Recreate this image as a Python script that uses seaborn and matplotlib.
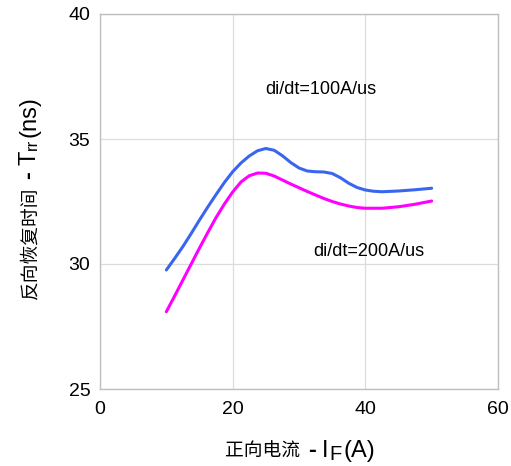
import matplotlib
matplotlib.use("Agg")
import matplotlib.pyplot as plt
import seaborn as sns
import pandas as pd

x_100 = [10, 11.25, 12.5, 13.75, 15, 16.25, 17.5, 18.75, 20, 21.25, 22.5, 23.75, 25, 26.25, 27.5,
         28.75, 30, 31.25, 32.5, 33.75, 35, 36.25, 37.5, 38.75, 40, 41.25, 42.5, 45, 47.5, 50]
trr_100 = [29.76, 30.22, 30.70, 31.22, 31.76, 32.28, 32.78, 33.26, 33.69, 34.04, 34.32, 34.53, 34.62, 34.55, 34.33,
           34.06, 33.84, 33.72, 33.69, 33.68, 33.62, 33.45, 33.23, 33.06, 32.96, 32.91, 32.89, 32.92, 32.97, 33.03]
x_200 = [10, 11.25, 12.5, 13.75, 15, 16.25, 17.5, 18.75, 20, 21.25, 22.5, 23.75, 25, 26.25, 27.5,
         28.75, 30, 31.25, 32.5, 33.75, 35, 36.25, 37.5, 38.75, 40, 42.5, 45, 47.5, 50]
trr_200 = [28.09, 28.72, 29.36, 30.00, 30.64, 31.26, 31.86, 32.40, 32.88, 33.28, 33.53, 33.64, 33.63, 33.52, 33.36,
           33.20, 33.05, 32.90, 32.76, 32.62, 32.50, 32.40, 32.32, 32.26, 32.23, 32.23, 32.29, 32.39, 32.52]
labels = ["di/dt=100A/us", "di/dt=200A/us"]
x_ticks = [0, 20, 40, 60]
y_ticks = [25, 30, 35, 40]

sns.set_theme(style="white")
plt.rcParams['font.family'] = ['Liberation Sans', 'Noto Sans CJK SC', 'DejaVu Sans']
plt.rcParams['text.color'] = 'black'

df = pd.DataFrame({
    "IF": x_100 + x_200,
    "Trr": trr_100 + trr_200,
    "series": [labels[0]] * len(x_100) + [labels[1]] * len(x_200),
})

W, H = 511, 466
fig = plt.figure(figsize=(W / 100, H / 100), dpi=100)
ax = fig.add_axes([100 / W, 1 - 389 / H, 398 / W, 375 / H])

sns.lineplot(data=df, x="IF", y="Trr", hue="series",
             palette={labels[0]: "#3A66EE", labels[1]: "#FF00FF"},
             linewidth=2.2, legend=False, ax=ax, sort=False)

ax.set_xlim(0, 60)
ax.set_ylim(25, 40)
ax.set_xticks(x_ticks)
ax.set_yticks(y_ticks)
ax.tick_params(axis='both', length=0, labelsize=14, colors="#000000")
ax.tick_params(axis='x', pad=9)
ax.tick_params(axis='y', pad=7)
ax.grid(True, color="#DCDCDC", linewidth=0.9)
ax.set_xlabel("")
ax.set_ylabel("")
for s in ax.spines.values():
    s.set_color("#BFBFBF")
    s.set_linewidth(1.0)

ax.text(24.9, 37.0, labels[0], fontsize=13, va="center", ha="left")
ax.text(32.1, 30.5, labels[1], fontsize=13, va="center", ha="left")

# composed axis labels (CJK + subscript)
renderer = fig.canvas.get_renderer()
CJK = ['Noto Sans CJK SC']
LAT = ['Liberation Sans']


def measure(s, size, fam, weight):
    t = fig.text(0, 0, s, fontsize=size, family=fam, weight=weight)
    w = t.get_window_extent(renderer).width
    t.remove()
    return w


# (text, size, family, weight, gap after in px, baseline offset in px)
x_pieces = [("正向电流", 13.5, CJK, "normal", 8, 0),
            ("-", 17, LAT, "bold", 6, 0),
            ("I", 17, LAT, "normal", 1.5, 0),
            ("F", 14.5, LAT, "normal", 1.5, -3),
            ("(A)", 17, LAT, "normal", 0, 0)]
ws = [measure(p[0], p[1], p[2], p[3]) for p in x_pieces]
total = sum(ws) + sum(p[4] for p in x_pieces)
cur = 300 - total / 2
x_base = 457
for (s, size, fam, wt, gap, dy), w in zip(x_pieces, ws):
    fig.text(cur / W, (H - x_base + dy) / H, s, fontsize=size, family=fam, weight=wt,
             ha="left", va="baseline")
    cur += w + gap

y_pieces = [("反向恢复时间", 13.5, CJK, "normal", 8, 0),
            ("-", 17, LAT, "bold", 6, 0),
            ("T", 17, LAT, "normal", 0.5, 0),
            ("rr", 12, LAT, "normal", 1.5, 2),
            ("(ns)", 17, LAT, "normal", 0, 0)]
ws = [measure(p[0], p[1], p[2], p[3]) for p in y_pieces]
total = sum(ws) + sum(p[4] for p in y_pieces)
cur = (H - 198) - total / 2
y_base = 35
for (s, size, fam, wt, gap, dx), w in zip(y_pieces, ws):
    fig.text((y_base + dx) / W, cur / H, s, fontsize=size, family=fam, weight=wt,
             rotation=90, rotation_mode="anchor", ha="left", va="baseline")
    cur += w + gap

fig.savefig("out.png", dpi=100)
